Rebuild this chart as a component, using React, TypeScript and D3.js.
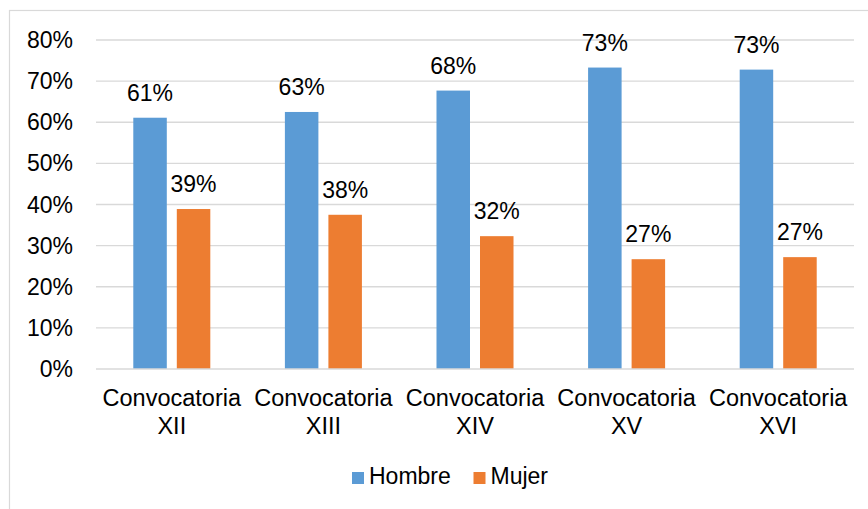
import React, { useEffect, useRef } from "react";
import * as d3 from "d3";

// Share of participants by gender in each call (convocatoria), in percent
const categories: string[][] = [
  ["Convocatoria", "XII"],
  ["Convocatoria", "XIII"],
  ["Convocatoria", "XIV"],
  ["Convocatoria", "XV"],
  ["Convocatoria", "XVI"],
];
const seriesNames = ["Hombre", "Mujer"];
const hombre = [61.1, 62.5, 67.7, 73.3, 72.8];
const mujer = [38.9, 37.5, 32.3, 26.7, 27.2];
const yTicks = [0, 10, 20, 30, 40, 50, 60, 70, 80];
const colors = ["#5B9BD5", "#ED7D31"];

const W = 868;
const H = 509;
const FONT = "'Liberation Sans', Arial, sans-serif";

export default function App() {
  const ref = useRef<SVGSVGElement | null>(null);

  useEffect(() => {
    const svg = d3.select(ref.current);
    svg.selectAll("*").remove();

    // chart frame
    svg
      .append("rect")
      .attr("x", 9.5)
      .attr("y", 10.5)
      .attr("width", 900)
      .attr("height", 600)
      .attr("fill", "#fff")
      .attr("stroke", "#d9d9d9")
      .attr("stroke-width", 1.2);

    const left = 96;
    const right = 854;
    const y = d3.scaleLinear().domain([0, 80]).range([369, 40]);

    const keys = categories.map((c) => c.join(" "));
    const x0 = d3
      .scaleBand<string>()
      .domain(keys)
      .range([left, right])
      .paddingInner(0.492)
      .paddingOuter(0.246);
    const x1 = d3
      .scaleBand<string>()
      .domain(seriesNames)
      .range([0, x0.bandwidth()])
      .paddingInner(0.23)
      .paddingOuter(0);

    // gridlines
    svg
      .append("g")
      .selectAll("line")
      .data(yTicks.filter((t) => t > 0))
      .join("line")
      .attr("x1", left)
      .attr("x2", right)
      .attr("y1", (d) => y(d))
      .attr("y2", (d) => y(d))
      .attr("stroke", "#d9d9d9")
      .attr("stroke-width", 1.3);

    // y tick labels
    svg
      .append("g")
      .selectAll("text")
      .data(yTicks)
      .join("text")
      .attr("x", 73)
      .attr("y", (d) => y(d) + 8)
      .attr("text-anchor", "end")
      .attr("font-family", FONT)
      .attr("font-size", 23)
      .attr("fill", "#000")
      .text((d) => `${d}%`);

    const seriesValues = [hombre, mujer];

    // bars and value labels
    seriesValues.forEach((vals, si) => {
      const g = svg.append("g");
      g.selectAll("rect")
        .data(vals)
        .join("rect")
        .attr("x", (_, i) => (x0(keys[i]) ?? 0) + (x1(seriesNames[si]) ?? 0))
        .attr("y", (d) => y(d))
        .attr("width", x1.bandwidth())
        .attr("height", (d) => y(0) - y(d))
        .attr("fill", colors[si]);
      g.selectAll("text")
        .data(vals)
        .join("text")
        .attr(
          "x",
          (_, i) =>
            (x0(keys[i]) ?? 0) + (x1(seriesNames[si]) ?? 0) + x1.bandwidth() / 2
        )
        .attr("y", (d) => y(d) - 17)
        .attr("text-anchor", "middle")
        .attr("font-family", FONT)
        .attr("font-size", 23)
        .attr("fill", "#000")
        .text((d) => `${Math.round(d)}%`);
    });

    // category axis line
    svg
      .append("line")
      .attr("x1", left)
      .attr("x2", right)
      .attr("y1", y(0))
      .attr("y2", y(0))
      .attr("stroke", "#d9d9d9")
      .attr("stroke-width", 1.3);

    // category labels (two lines)
    const cat = svg
      .append("g")
      .selectAll("text")
      .data(categories)
      .join("text")
      .attr("text-anchor", "middle")
      .attr("font-family", FONT)
      .attr("font-size", 23.5)
      .attr("fill", "#000");
    cat.each(function (lines, i) {
      const cx = (x0(keys[i]) ?? 0) + x0.bandwidth() / 2;
      d3.select(this)
        .selectAll("tspan")
        .data(lines)
        .join("tspan")
        .attr("x", cx)
        .attr("y", (_, k) => 406 + k * 28)
        .text((t) => t);
    });

    // legend
    const legendX = [352, 473.5];
    const legend = svg
      .append("g")
      .selectAll("g")
      .data(seriesNames)
      .join("g")
      .attr("transform", (_, i) => `translate(${legendX[i]},472)`);
    legend
      .append("rect")
      .attr("width", 12)
      .attr("height", 12)
      .attr("fill", (_, i) => colors[i]);
    legend
      .append("text")
      .attr("x", 17)
      .attr("y", 12)
      .attr("font-family", FONT)
      .attr("font-size", 23)
      .attr("fill", "#000")
      .text((d) => d);
  }, []);

  return (
    <svg
      ref={ref}
      width={W}
      height={H}
      style={{ position: "absolute", left: 0, top: 0, background: "#fff" }}
    />
  );
}
